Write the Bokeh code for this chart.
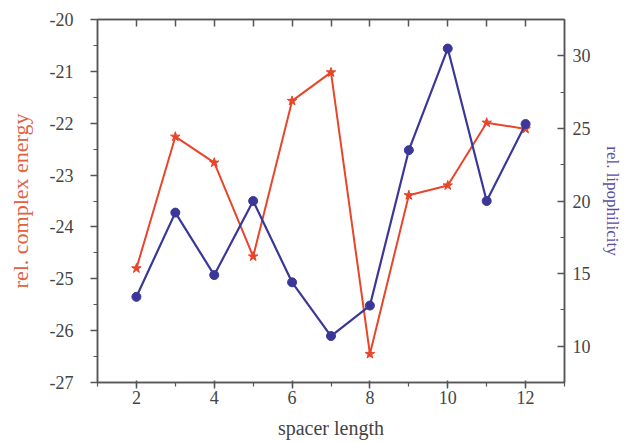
from bokeh.plotting import figure
from bokeh.models import (LinearAxis, Range1d, SingleIntervalTicker, FixedTicker,
                          ColumnDataSource, PrintfTickFormatter)
from bokeh.embed import file_html
from bokeh.resources import INLINE

# ---- data ----
spacer = [2, 3, 4, 5, 6, 7, 8, 9, 10, 11, 12]
energy = [-24.8, -22.26, -22.76, -24.57, -21.57, -21.02, -26.45, -23.39, -23.2, -21.99, -22.11]
lipophilicity = [13.4, 19.2, 14.9, 20.0, 14.4, 10.7, 12.8, 23.5, 30.5, 20.0, 25.3]
x_label = "spacer length"
left_label = "rel. complex energy"
right_label = "rel. lipophilicity"

RED = "#e8452a"
BLUE = "#3a3798"
AXIS = "#555555"
FONT = "Liberation Serif"

p = figure(width=628, height=443, output_backend="svg", toolbar_location=None,
           x_range=Range1d(1, 13), y_range=Range1d(-27, -20),
           min_border_left=97, min_border_right=64, min_border_top=19,
           min_border_bottom=61, background_fill_color="white",
           x_axis_location=None, y_axis_location=None)
p.xgrid.visible = False
p.ygrid.visible = False
p.outline_line_color = AXIS
p.outline_line_width = 1.5
p.extra_y_ranges = {"lip": Range1d(7.5, 32.5)}

def style(ax, label_color=None, label_size="20px"):
    ax.axis_line_color = AXIS
    ax.axis_line_width = 1.5
    ax.major_tick_line_color = AXIS
    ax.minor_tick_line_color = AXIS
    ax.major_tick_line_width = 1.5
    ax.minor_tick_line_width = 1.2
    ax.major_label_text_font = FONT
    ax.major_label_text_font_size = "18px"
    ax.major_label_text_color = "#444444"
    ax.axis_label_text_font = FONT
    ax.axis_label_text_font_style = "normal"
    ax.axis_label_text_font_size = label_size
    ax.formatter = PrintfTickFormatter(format="%d")
    if label_color:
        ax.axis_label_text_color = label_color

# bottom axis
xb = LinearAxis(ticker=SingleIntervalTicker(interval=2, num_minor_ticks=2), axis_label=x_label)
style(xb, "#444444", "20px")
xb.major_tick_out = 6
xb.major_tick_in = 2
xb.minor_tick_out = 4
xb.minor_tick_in = 0
xb.major_label_standoff = 2
xb.axis_label_standoff = 10
p.add_layout(xb, "below")

# top axis (ticks only)
xt = LinearAxis(ticker=FixedTicker(ticks=spacer))
style(xt)
xt.major_tick_in = 7
xt.major_tick_out = 0
xt.minor_tick_in = 0
xt.minor_tick_out = 0
xt.major_label_text_font_size = "0px"
xt.major_label_text_alpha = 0
p.add_layout(xt, "above")

# left axis
yl = LinearAxis(ticker=SingleIntervalTicker(interval=1, num_minor_ticks=2), axis_label=left_label)
style(yl, "#e0603f", "22px")
yl.major_tick_out = 7
yl.major_tick_in = 0
yl.minor_tick_out = 4
yl.minor_tick_in = 0
yl.major_label_standoff = 17
yl.axis_label_standoff = 14
p.add_layout(yl, "left")

# right axis
yr = LinearAxis(y_range_name="lip", ticker=SingleIntervalTicker(interval=5, num_minor_ticks=2),
                axis_label=right_label)
style(yr, "#5a4ea6", "17px")
yr.major_tick_in = 7
yr.major_tick_out = 0
yr.minor_tick_in = 4
yr.minor_tick_out = 0
yr.major_label_standoff = 8
yr.axis_label_standoff = 9
p.add_layout(yr, "right")

src = ColumnDataSource(dict(x=spacer, e=energy, l=lipophilicity))

p.line("x", "e", source=src, line_color=RED, line_width=2)
p.scatter("x", "e", source=src, marker="star", size=10, fill_color=RED, line_color=RED)

p.line("x", "l", source=src, y_range_name="lip", line_color=BLUE, line_width=2.2)
p.scatter("x", "l", source=src, y_range_name="lip", marker="circle", size=9,
          fill_color=BLUE, line_color=BLUE)

open("out.html", "w").write(file_html(p, INLINE))
